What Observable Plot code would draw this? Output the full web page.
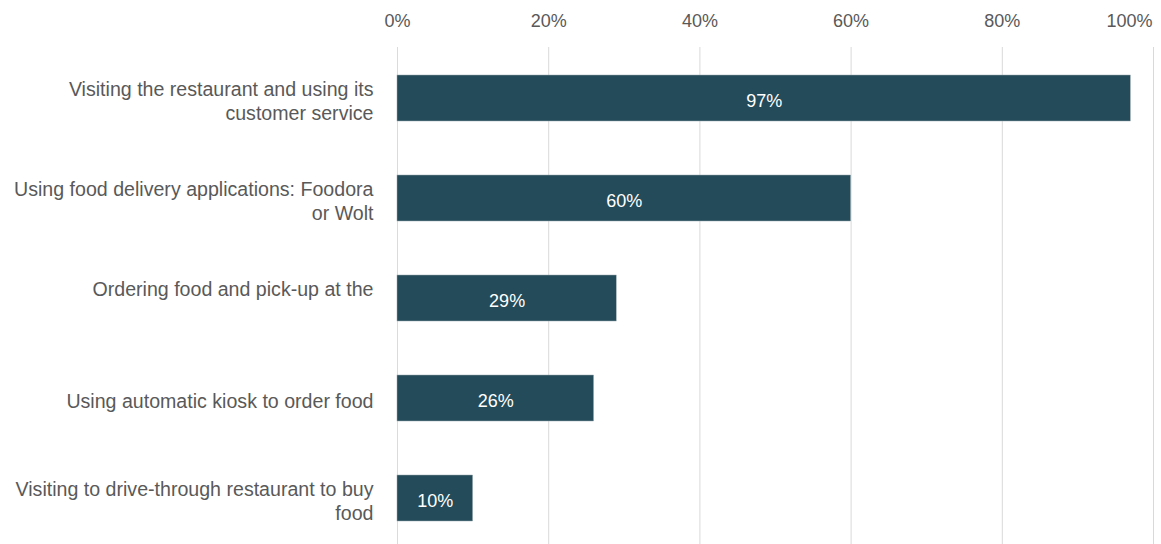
<!DOCTYPE html>
<html>
<head>
<meta charset="utf-8">
<script src="https://cdn.jsdelivr.net/npm/d3@7"></script>
<script src="https://cdn.jsdelivr.net/npm/@observablehq/plot@0.6"></script>
<style>
  html, body { margin: 0; padding: 0; background: #fff; }
  svg { display: block; }
</style>
</head>
<body>
<div id="chart"></div>
<script>
const categories = [
  "Visiting the restaurant and using its customer service",
  "Using food delivery applications: Foodora or Wolt",
  "Ordering food and pick-up at the",
  "Using automatic kiosk to order food",
  "Visiting to drive-through restaurant to buy food"
];
const categoryLabels = [
  "Visiting the restaurant and using its\ncustomer service",
  "Using food delivery applications: Foodora\nor Wolt",
  "Ordering food and pick-up at the\n",
  "Using automatic kiosk to order food",
  "Visiting to drive-through restaurant to buy\nfood"
];
const values = [97, 60, 29, 26, 10];
const xTicks = [0, 20, 40, 60, 80, 100];

const data = categories.map((c, i) => ({category: c, value: values[i]}));
const labelOf = new Map(categories.map((c, i) => [c, categoryLabels[i]]));

const textColor = "#595959";
const chart = Plot.plot({
  width: 1161,
  height: 544,
  marginLeft: 397,
  marginRight: 8,
  marginTop: 47,
  marginBottom: 0,
  style: {fontFamily: "'Liberation Sans', Arial, sans-serif", background: "#fff"},
  x: {domain: [0, 100], ticks: xTicks},
  y: {domain: categories, range: [47, 549], paddingInner: 0.54, paddingOuter: 0.27},
  marks: [
    Plot.gridX(xTicks.filter(d => d > 0), {stroke: "#d9d9d9", strokeOpacity: 1, strokeWidth: 1}),
    Plot.ruleX([0], {stroke: "#d6dce5", strokeWidth: 1}),
    Plot.barX(data, {y: "category", x: "value", fill: "#244b59", stroke: "#9aa9b0", strokeWidth: 0.5}),
    Plot.text(data, {y: "category", x: d => d.value / 2, text: d => d.value + "%", fill: "#ffffff", fontSize: 18, dy: 3}),
    Plot.axisX(xTicks.filter(d => d < 100), {anchor: "top", tickSize: 0, tickPadding: 21, fontSize: 18, color: textColor, tickFormat: d => d + "%", label: null}),
    Plot.axisX([100], {anchor: "top", tickSize: 0, tickPadding: 21, fontSize: 18, color: textColor, tickFormat: d => d + "%", label: null, textAnchor: "end", dx: -1}),
    Plot.axisY({anchor: "left", tickSize: 0, tickPadding: 24, fontSize: 19.6, lineHeight: 1.23, dy: 2, color: textColor, tickFormat: d => labelOf.get(d), label: null})
  ]
});
document.getElementById("chart").appendChild(chart);
</script>
</body>
</html>
